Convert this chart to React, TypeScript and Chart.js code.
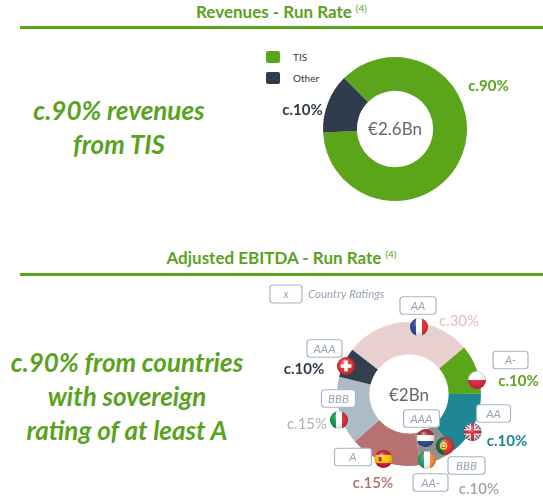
import React, { useEffect, useRef } from "react";
import { Chart, registerables } from "chart.js";

Chart.register(...registerables);

// ---------- Data ----------
const revenueLabels = ["TIS", "Other"];
const revenueValues = [86.7, 13.3];
const revenueColors = ["#5BA51A", "#2F3C4B"];
const revenuePctText = ["c.90%", "c.10%"];
const revenueTotal = "€2.6Bn";

const ebitdaLabels = ["France", "Poland", "United Kingdom", "Portugal / Netherlands / Ireland", "Spain", "Italy", "Switzerland"];
const ebitdaValues = [28.3, 11.1, 14.2, 8.3, 16.1, 15.3, 6.7];
const ebitdaColors = ["#E8D0D0", "#5BA51A", "#1F8793", "#8F8F8F", "#B87171", "#ADBAC7", "#323F4E"];
const ebitdaPctText = ["c.30%", "c.10%", "c.10%", "c.10%", "c.15%", "c.15%", "c.10%"];
const ebitdaTotal = "€2Bn";

const ratingCountries = ["FR", "CH", "PL", "IT", "GB", "NL", "ES", "PT", "IE"];
const ratingValues = ["AA", "AAA", "A-", "BBB", "AA", "AAA", "A", "BBB", "AA-"];

// ---------- Layout (offsets from donut centre, px) ----------
const revenuePctPos = [
  { dx: 93.5, dy: -38, color: "#5BA51A", weight: "bold" },
  { dx: -92.5, dy: -14.5, color: "#2F3C4B", weight: "bold" },
];
const ebitdaPctPos = [
  { dx: 50, dy: -68.5, color: "#E2BCBC", weight: "normal" },
  { dx: 109.5, dy: -8.5, color: "#5BA51A", weight: "bold" },
  { dx: 98, dy: 51.5, color: "#1B8795", weight: "bold" },
  { dx: 70, dy: 99.5, color: "#A3A3A3", weight: "600" },
  { dx: -36, dy: 93.5, color: "#B56B6B", weight: "600" },
  { dx: -102, dy: 34.5, color: "#A9B0B9", weight: "normal" },
  { dx: -105, dy: -20.5, color: "#2F3C4B", weight: "bold" },
];
const ratingBoxPos = [
  { dx: 9, dy: -88.5, w: 36 },
  { dx: -84.5, dy: -45.5, w: 35 },
  { dx: 101.5, dy: -34, w: 35 },
  { dx: -70.5, dy: 4.5, w: 34 },
  { dx: 84.5, dy: 19.5, w: 34 },
  { dx: 12.5, dy: 24.5, w: 36 },
  { dx: -56, dy: 63, w: 37 },
  { dx: 57.5, dy: 71.5, w: 37 },
  { dx: 21.5, dy: 88.5, w: 35 },
];
const flagPos = [
  { dx: 10, dy: -67 },
  { dx: -63, dy: -28 },
  { dx: 68, dy: -14 },
  { dx: -70, dy: 26 },
  { dx: 63.5, dy: 38 },
  { dx: 16.5, dy: 44 },
  { dx: -25.5, dy: 65 },
  { dx: 36, dy: 52 },
  { dx: 18, dy: 66 },
];

const FONT = "Lato, 'Open Sans', sans-serif";
const GREEN = "#5AA21D";

function roundRectPath(ctx: CanvasRenderingContext2D, x: number, y: number, w: number, h: number, r: number) {
  ctx.beginPath();
  ctx.moveTo(x + r, y);
  ctx.lineTo(x + w - r, y);
  ctx.quadraticCurveTo(x + w, y, x + w, y + r);
  ctx.lineTo(x + w, y + h - r);
  ctx.quadraticCurveTo(x + w, y + h, x + w - r, y + h);
  ctx.lineTo(x + r, y + h);
  ctx.quadraticCurveTo(x, y + h, x, y + h - r);
  ctx.lineTo(x, y + r);
  ctx.quadraticCurveTo(x, y, x + r, y);
  ctx.closePath();
}

function drawFlag(ctx: CanvasRenderingContext2D, code: string, x: number, y: number, r: number) {
  ctx.save();
  ctx.beginPath();
  ctx.arc(x, y, r, 0, Math.PI * 2);
  ctx.clip();
  const L = x - r, T = y - r, S = 2 * r;
  const vStripes = (cols: string[]) => cols.forEach((c, i) => { ctx.fillStyle = c; ctx.fillRect(L + (S * i) / cols.length, T, S / cols.length + 0.5, S); });
  const hStripes = (cols: string[]) => cols.forEach((c, i) => { ctx.fillStyle = c; ctx.fillRect(L, T + (S * i) / cols.length, S, S / cols.length + 0.5); });
  switch (code) {
    case "FR": vStripes(["#22408F", "#FFFFFF", "#E1252D"]); break;
    case "IT": vStripes(["#0B9448", "#FFFFFF", "#D7262F"]); break;
    case "IE": vStripes(["#1A9B5A", "#FFFFFF", "#F68A35"]); break;
    case "NL": hStripes(["#B01F2A", "#FFFFFF", "#25468E"]); break;
    case "PL": hStripes(["#FFFFFF", "#DC1C3C"]); break;
    case "ES":
      ctx.fillStyle = "#C8102E"; ctx.fillRect(L, T, S, S);
      ctx.fillStyle = "#FFC400"; ctx.fillRect(L, T + S * 0.27, S, S * 0.46);
      ctx.fillStyle = "#AD1519"; ctx.fillRect(x - r * 0.55, y - r * 0.25, r * 0.35, r * 0.5);
      break;
    case "PT":
      ctx.fillStyle = "#E0262E"; ctx.fillRect(L, T, S, S);
      ctx.fillStyle = "#046A38"; ctx.fillRect(L, T, S * 0.42, S);
      ctx.fillStyle = "#FFD200"; ctx.beginPath(); ctx.arc(L + S * 0.42, y, r * 0.42, 0, Math.PI * 2); ctx.fill();
      ctx.fillStyle = "#E0262E"; ctx.fillRect(L + S * 0.42 - r * 0.2, y - r * 0.22, r * 0.4, r * 0.44);
      ctx.fillStyle = "#FFFFFF"; ctx.fillRect(L + S * 0.42 - r * 0.1, y - r * 0.12, r * 0.2, r * 0.24);
      break;
    case "CH":
      ctx.fillStyle = "#E3262B"; ctx.fillRect(L, T, S, S);
      ctx.fillStyle = "#FFFFFF";
      ctx.fillRect(x - r * 0.2, y - r * 0.6, r * 0.4, r * 1.2);
      ctx.fillRect(x - r * 0.6, y - r * 0.2, r * 1.2, r * 0.4);
      break;
    case "GB":
      ctx.fillStyle = "#1F3C88"; ctx.fillRect(L, T, S, S);
      ctx.strokeStyle = "#FFFFFF"; ctx.lineWidth = r * 0.45;
      ctx.beginPath(); ctx.moveTo(L, T); ctx.lineTo(L + S, T + S); ctx.moveTo(L + S, T); ctx.lineTo(L, T + S); ctx.stroke();
      ctx.strokeStyle = "#D0232F"; ctx.lineWidth = r * 0.15;
      ctx.beginPath(); ctx.moveTo(L, T); ctx.lineTo(L + S, T + S); ctx.moveTo(L + S, T); ctx.lineTo(L, T + S); ctx.stroke();
      ctx.fillStyle = "#FFFFFF";
      ctx.fillRect(x - r * 0.32, T, r * 0.64, S); ctx.fillRect(L, y - r * 0.32, S, r * 0.64);
      ctx.fillStyle = "#D0232F";
      ctx.fillRect(x - r * 0.18, T, r * 0.36, S); ctx.fillRect(L, y - r * 0.18, S, r * 0.36);
      break;
  }
  const g = ctx.createRadialGradient(x - r * 0.25, y - r * 0.55, 0, x, y, r * 1.05);
  g.addColorStop(0, "rgba(255,255,255,0.55)");
  g.addColorStop(0.45, "rgba(255,255,255,0.08)");
  g.addColorStop(1, "rgba(0,0,0,0.22)");
  ctx.fillStyle = g;
  ctx.fillRect(L, T, S, S);
  ctx.restore();
}

const revenueLabelPlugin = {
  id: "revenueLabels",
  afterDraw(chart: any) {
    const ctx: CanvasRenderingContext2D = chart.ctx;
    const arc = chart.getDatasetMeta(0).data[0];
    const cx = arc.x, cy = arc.y;
    ctx.save();
    ctx.textAlign = "center";
    ctx.textBaseline = "alphabetic";
    revenuePctText.forEach((t, i) => {
      const p = revenuePctPos[i];
      ctx.font = `${p.weight} 15px ${FONT}`;
      ctx.fillStyle = p.color;
      ctx.fillText(t, cx + p.dx, cy + p.dy);
    });
    ctx.font = `normal 17px ${FONT}`;
    ctx.fillStyle = "#666666";
    ctx.fillText(revenueTotal, cx, cy + 6);
    ctx.restore();
  },
};

const ebitdaLabelPlugin = {
  id: "ebitdaLabels",
  afterDraw(chart: any) {
    const ctx: CanvasRenderingContext2D = chart.ctx;
    const arc = chart.getDatasetMeta(0).data[0];
    const cx = arc.x, cy = arc.y;
    ctx.save();
    ctx.textAlign = "center";
    ctx.textBaseline = "middle";
    // Country ratings key
    ctx.strokeStyle = "#A8B4C2";
    ctx.lineWidth = 1.2;
    ctx.fillStyle = "#FFFFFF";
    roundRectPath(ctx, cx - 139, cy - 109, 32, 18, 3);
    ctx.fill(); ctx.stroke();
    ctx.font = `italic 11px ${FONT}`;
    ctx.fillStyle = "#97A4B4";
    ctx.fillText("x", cx - 123, cy - 100);
    ctx.textAlign = "left";
    ctx.font = `italic 11.5px ${FONT}`;
    ctx.fillText("Country Ratings", cx - 101, cy - 99.5);
    ctx.textAlign = "center";
    // rating boxes
    ratingValues.forEach((v, i) => {
      const b = ratingBoxPos[i];
      const h = 17.5;
      ctx.strokeStyle = "#A8B4C2";
      ctx.fillStyle = "#FFFFFF";
      ctx.lineWidth = 1.2;
      roundRectPath(ctx, cx + b.dx - b.w / 2, cy + b.dy - h / 2, b.w, h, 3);
      ctx.fill(); ctx.stroke();
      ctx.font = `italic 11.5px ${FONT}`;
      ctx.fillStyle = "#97A4B4";
      ctx.fillText(v, cx + b.dx, cy + b.dy + 0.5);
    });
    // flags
    ratingCountries.forEach((c, i) => {
      const f = flagPos[i];
      drawFlag(ctx, c, cx + f.dx, cy + f.dy, 9);
    });
    // percentage labels
    ctx.textBaseline = "alphabetic";
    ebitdaPctText.forEach((t, i) => {
      const p = ebitdaPctPos[i];
      ctx.font = `${p.weight} 15px ${FONT}`;
      ctx.fillStyle = p.color;
      ctx.fillText(t, cx + p.dx, cy + p.dy);
    });
    ctx.font = `normal 17px ${FONT}`;
    ctx.fillStyle = "#666666";
    ctx.fillText(ebitdaTotal, cx, cy + 7);
    ctx.restore();
  },
};

function Donut(props: {
  labels: string[]; values: number[]; colors: string[]; cutout: string; rotation: number;
  padding: { left: number; right: number; top: number; bottom: number }; plugin: any;
  width: number; height: number; style: React.CSSProperties;
}) {
  const ref = useRef<HTMLCanvasElement>(null);
  useEffect(() => {
    if (!ref.current) return;
    const chart = new Chart(ref.current, {
      type: "doughnut",
      data: {
        labels: props.labels,
        datasets: [{
          data: props.values,
          backgroundColor: props.colors,
          borderWidth: 0,
          hoverBorderWidth: 0,
          hoverOffset: 0,
          offset: 0,
        } as any],
      },
      options: {
        responsive: false,
        animation: false,
        cutout: props.cutout,
        rotation: props.rotation,
        layout: { padding: props.padding },
        plugins: { legend: { display: false }, tooltip: { enabled: false } },
        events: [],
      } as any,
      plugins: [props.plugin],
    });
    return () => chart.destroy();
  }, []);
  return <canvas ref={ref} width={props.width} height={props.height} style={{ position: "absolute", width: props.width, height: props.height, ...props.style }} />;
}

const titleStyle: React.CSSProperties = {
  position: "absolute", left: 20, width: 523, textAlign: "center", fontFamily: FONT,
  fontWeight: 700, fontSize: 17, lineHeight: "20px", color: GREEN, whiteSpace: "nowrap",
};
const ruleStyle: React.CSSProperties = { position: "absolute", left: 20, width: 523, height: 3, background: "#5BA51A" };
const bigTextStyle: React.CSSProperties = {
  position: "absolute", textAlign: "center", fontFamily: FONT, fontWeight: 700, fontStyle: "italic",
  fontSize: 26, lineHeight: "34px", color: GREEN, whiteSpace: "nowrap",
};
const supStyle: React.CSSProperties = { fontSize: 10, verticalAlign: 6, lineHeight: 0, fontWeight: 400, marginLeft: 4 };

export default function App() {
  return (
    <div style={{ position: "absolute", left: 0, top: 0, width: 543, height: 504, background: "#FFFFFF", overflow: "hidden" }}>
      <div style={{ ...titleStyle, top: 2 }}>Revenues - Run Rate<sup style={supStyle}>(4)</sup></div>
      <div style={{ ...ruleStyle, top: 26 }} />
      <div style={{ ...bigTextStyle, left: 9, width: 220, top: 93 }}>
        c.90% revenues<br />from TIS
      </div>
      {revenueLabels.map((l, i) => (
        <div key={l} style={{ position: "absolute", left: 266, top: 51 + i * 20.5, display: "flex", alignItems: "center", fontFamily: FONT, fontSize: 10, color: "#333", height: 12 }}>
          <span style={{ display: "inline-block", width: 14, height: 12, borderRadius: 2, background: revenueColors[i], marginRight: 13 }} />
          <span>{l}</span>
        </div>
      ))}
      <Donut labels={revenueLabels} values={revenueValues} colors={revenueColors} cutout="53%" rotation={-45}
        padding={{ left: 323, right: 76, top: 27, bottom: 39 }} plugin={revenueLabelPlugin}
        width={543} height={210} style={{ left: 0, top: 30 }} />

      <div style={{ ...titleStyle, top: 248 }}>Adjusted EBITDA - Run Rate<sup style={supStyle}>(4)</sup></div>
      <div style={{ ...ruleStyle, top: 273 }} />
      <div style={{ ...bigTextStyle, left: 1, width: 252, top: 345 }}>
        c.90% from countries<br />with sovereign<br />rating of at least A
      </div>
      <Donut labels={ebitdaLabels} values={ebitdaValues} colors={ebitdaColors} cutout="55%" rotation={-52}
        padding={{ left: 337, right: 62, top: 42, bottom: 38 }} plugin={ebitdaLabelPlugin}
        width={543} height={224} style={{ left: 0, top: 280 }} />
    </div>
  );
}
